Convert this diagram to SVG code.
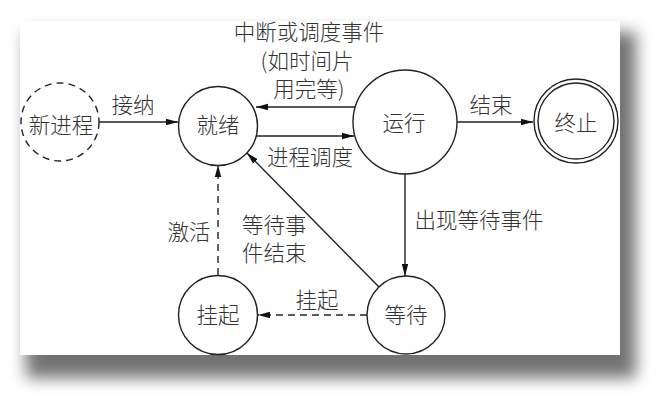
<svg xmlns="http://www.w3.org/2000/svg" width="669" height="405" viewBox="0 0 669 405">
<defs>
<filter id="shadow" x="-10%" y="-10%" width="130%" height="140%">
<feGaussianBlur stdDeviation="8"/>
</filter>
<marker id="arr" viewBox="0 0 12 8" refX="12" refY="4" markerWidth="12" markerHeight="8" markerUnits="userSpaceOnUse" orient="auto">
<path d="M0,0.8 L12,4 L0,7.2 Z" fill="#111"/>
</marker>
</defs>
<style>
text{font-family:"Noto Sans CJK SC","Noto Sans CJK JP",sans-serif;font-size:21.5px;font-weight:300;fill:#333;}
.m{text-anchor:middle;}
.node{fill:none;stroke:#222;stroke-width:1.4;}
.dash{stroke-dasharray:7,5;}
.c{fill:none;stroke:#222;stroke-width:1.4;}
</style>
<rect x="0" y="0" width="669" height="405" fill="#fff"/>
<rect x="26" y="32" width="610" height="346" fill="#000" opacity="0.55" filter="url(#shadow)"/>
<rect x="20" y="21" width="600" height="334" fill="#fff"/>

<g id="connectors">
<line class="c" x1="99" y1="122" x2="178" y2="122" marker-end="url(#arr)"/>
<line class="c" x1="355" y1="107" x2="256" y2="107" marker-end="url(#arr)"/>
<line class="c" x1="256" y1="136" x2="354" y2="136" marker-end="url(#arr)"/>
<line class="c" x1="457" y1="122" x2="533" y2="122" marker-end="url(#arr)"/>
<line class="c" x1="405" y1="173" x2="405" y2="276" marker-end="url(#arr)"/>
<line class="c dash" x1="367" y1="315" x2="258" y2="315" marker-end="url(#arr)"/>
<line class="c dash" x1="218" y1="275" x2="218" y2="165" marker-end="url(#arr)"/>
<line class="c" x1="379" y1="287" x2="247" y2="153" marker-end="url(#arr)"/>
<text class="m" x="133" y="113">接纳</text>
<text class="m" x="309" y="40">中断或调度事件</text>
<text class="m" x="307" y="69">(如时间片</text>
<text class="m" x="309" y="97">用完等)</text>
<text class="m" x="310" y="165">进程调度</text>
<text class="m" x="491" y="113">结束</text>
<text class="m" x="479" y="228">出现等待事件</text>
<text class="m" x="189" y="240">激活</text>
<text x="242" y="233">等待事</text>
<text x="242" y="261">件结束</text>
<text class="m" x="317" y="308">挂起</text>
</g>

<g id="node-new">
<circle class="node dash" cx="60" cy="122" r="39"/>
<text class="m" x="61" y="133">新进程</text>
</g>
<g id="node-ready">
<circle class="node" cx="218" cy="126" r="39.5"/>
<text class="m" x="218" y="133">就绪</text>
</g>
<g id="node-running">
<circle class="node" cx="405" cy="122" r="52"/>
<text class="m" x="404" y="131">运行</text>
</g>
<g id="node-terminated">
<circle class="node" cx="576" cy="121" r="42"/>
<circle class="node" cx="576" cy="121" r="38"/>
<text class="m" x="576" y="131">终止</text>
</g>
<g id="node-suspended">
<circle class="node" cx="218" cy="315" r="39.5"/>
<text class="m" x="218" y="323">挂起</text>
</g>
<g id="node-waiting">
<circle class="node" cx="406" cy="315" r="39"/>
<text class="m" x="406" y="323">等待</text>
</g>
</svg>
